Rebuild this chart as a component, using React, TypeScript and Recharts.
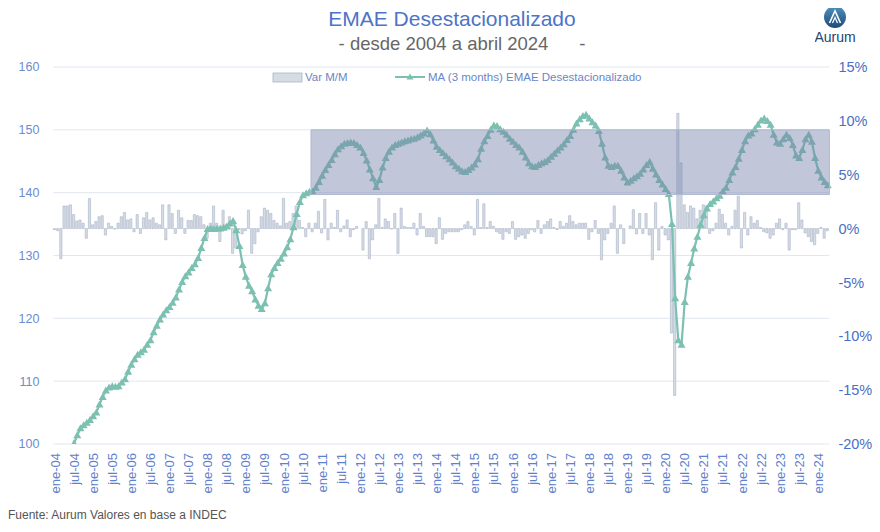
import React from "react";
import {
  Bar,
  CartesianGrid,
  ComposedChart,
  Line,
  ReferenceArea,
  XAxis,
  YAxis,
} from "recharts";

// meses en español para las etiquetas del eje X
const monthNames = ["ene", "feb", "mar", "abr", "may", "jun", "jul", "ago", "sep", "oct", "nov", "dic"];
const firstYear = 2004;
const lastMonthOfSeries = 4; // abril 2024

// MA (3 months) EMAE desestacionalizado, ene-04 .. abr-24
const maEmae: (number | null)[] = [
  null, null, null, null, null, null, 100.1, 101.4, 102.5, 103.0, 103.4, 103.8, // 2004
  104.4, 105.0, 106.3, 107.5, 108.5, 109.0, 109.2, 109.1, 109.2, 109.8, 110.3, 111.5, // 2005
  112.6, 113.5, 114.2, 114.6, 115.0, 115.8, 116.5, 117.8, 118.8, 119.8, 120.6, 121.3, // 2006
  121.8, 122.5, 123.3, 124.6, 125.8, 126.7, 127.3, 128.0, 128.6, 129.6, 131.2, 132.8, // 2007
  134.2, 134.3, 134.2, 134.3, 134.3, 134.4, 134.6, 135.1, 135.5, 134.0, 131.5, 128.5, // 2008
  126.6, 125.2, 124.3, 123.0, 122.0, 121.5, 122.4, 124.8, 127.0, 128.0, 128.8, 129.5, // 2009
  130.3, 131.3, 132.6, 134.5, 136.6, 138.5, 139.6, 139.9, 140.1, 140.2, 140.8, 141.7, // 2010
  142.7, 143.6, 144.4, 145.2, 146.1, 146.9, 147.4, 147.8, 147.9, 148.0, 147.9, 147.6, // 2011
  147.2, 146.3, 145.1, 143.7, 142.3, 140.9, 142.0, 144.0, 145.5, 146.5, 147.2, 147.6, // 2012
  147.8, 148.0, 148.2, 148.3, 148.5, 148.6, 148.8, 149.1, 149.4, 149.9, 149.3, 148.3, // 2013
  147.3, 146.8, 146.3, 145.8, 145.3, 144.8, 144.2, 143.8, 143.4, 143.3, 143.6, 144.0, // 2014
  144.5, 145.3, 147.0, 148.2, 149.0, 150.0, 150.7, 150.6, 150.1, 149.7, 149.2, 148.6, // 2015
  148.1, 147.6, 147.2, 146.5, 145.6, 144.7, 144.2, 144.1, 144.4, 144.7, 144.9, 145.2, // 2016
  145.7, 146.2, 146.7, 147.2, 147.7, 148.4, 149.0, 150.0, 151.0, 151.7, 152.2, 152.4, // 2017
  151.8, 151.2, 150.7, 149.8, 147.8, 145.6, 144.3, 144.1, 144.3, 144.3, 143.5, 142.4, // 2018
  141.6, 141.9, 142.3, 142.6, 143.0, 143.7, 144.4, 144.9, 143.8, 142.9, 142.0, 141.3, // 2019
  140.6, 139.8, 135.0, 123.2, 116.5, 115.8, 122.6, 126.6, 128.8, 131.1, 133.0, 134.9, // 2020
  136.4, 137.5, 138.2, 138.6, 139.1, 139.5, 140.2, 140.8, 142.0, 143.2, 144.1, 145.4, // 2021
  146.8, 148.2, 149.1, 149.4, 150.1, 150.8, 151.5, 151.8, 151.4, 150.8, 149.2, 148.0, // 2022
  147.8, 148.5, 149.2, 148.7, 147.6, 145.9, 145.5, 146.8, 148.5, 149.2, 148.1, 145.5, // 2023
  143.5, 142.4, 141.7, 141.2, // 2024
];

// Var M/M (%)
const varMoM: number[] = [
  -0.1, -0.2, -2.8, 2.1, 2.1, 2.2, 1.3, 0.7, 0.8, 0.5, -0.9, 2.8, // 2004
  0.35, 0.65, 1.1, 1.2, -0.6, 0.5, 0.2, -0.05, 0.5, 1.1, 1.5, 0.8, // 2005
  0.9, -0.3, 1.3, -0.45, 1.0, 1.5, 0.8, 1.0, 0.5, 0.35, 2.2, -1.05, // 2006
  2.2, 1.4, -0.45, 1.7, 1.0, -0.45, 0.75, 0.75, 1.3, 1.2, 1.1, 0.35, // 2007
  -0.9, 0.5, 2.1, 0.5, -1.2, 1.7, 0.35, 1.1, -2.3, -1.8, -0.1, -0.5, // 2008
  -0.2, 1.7, -2.3, -1.4, -0.3, 1.1, 1.9, 1.7, 1.4, 0.75, 0.5, 0.25, // 2009
  2.8, 0.5, 0.65, 1.4, 2.1, 0.75, 0.1, -0.75, 0.5, -0.3, 0.5, 1.6, // 2010
  -0.4, 2.7, -1.05, 0.5, 0.1, 1.7, -0.3, 0.25, 0.8, -0.75, -0.1, 0.2, // 2011
  0.0, -2.0, 0.65, -2.8, -1.05, 0.35, 2.8, 0.1, 0.9, 0.65, -0.05, 1.4, // 2012
  -2.3, 1.9, 0.2, 0.1, 0.1, 0.5, -0.6, 1.4, 0.2, -0.75, -0.75, -0.75, // 2013
  -1.4, 1.0, -1.0, -0.45, -0.3, -0.3, -0.3, -0.3, -0.1, 0.35, 0.65, 0.2, // 2014
  -0.6, 2.7, 0.1, 2.3, 0.1, 0.65, 0.2, -0.3, -0.45, -1.0, -0.3, -0.45, // 2015
  0.65, -1.0, -0.75, -0.6, -0.9, -0.45, -0.1, -0.3, 0.75, -0.45, 0.35, 0.65, // 2016
  0.9, 0.1, -0.1, 0.65, 0.2, 0.5, 1.2, 0.65, 0.35, 0.5, 0.5, 0.5, // 2017
  -1.0, -0.3, 0.75, -0.45, -2.9, -1.05, -0.45, 0.5, 2.1, -2.3, 0.35, -1.4, // 2018
  0.0, 0.25, 1.75, -0.5, 1.4, -0.45, 1.4, -0.6, -2.9, 2.4, -2.0, 0.2, // 2019
  -0.6, -1.05, -9.7, -15.5, 10.7, 6.1, 2.2, 1.5, 2.1, 1.9, 0.9, 1.7, // 2020
  2.2, 2.1, -0.45, -0.2, 0.5, 1.8, 1.3, 0.5, -0.6, 0.2, 1.7, 3.0, // 2021
  -1.8, 1.5, -0.6, 1.1, 0.5, 0.75, 0.1, -0.3, -0.4, -0.9, -0.6, 0.5, // 2022
  0.9, -0.1, 0.5, -2.0, -0.1, -0.1, 2.4, 0.8, -0.4, -0.75, -1.2, -1.5, // 2023
  -0.45, 0.1, -0.9, -0.2, // 2024
];

const leftTicks = [100, 110, 120, 130, 140, 150, 160];
const rightTicks = [-20, -15, -10, -5, 0, 5, 10, 15];

// banda resaltada (oct-10 a abr-24)
const bandStart = "oct-10";
const bandEnd = "abr-24";
const bandLow = 139.7;
const bandHigh = 150;

const LINE_COLOR = "#7cc0b1";
const AXIS_BLUE = "#5f80cc";

const months: string[] = [];
for (let y = firstYear; y <= 2024; y++) {
  for (let m = 0; m < 12; m++) {
    if (y === 2024 && m >= lastMonthOfSeries) break;
    months.push(`${monthNames[m]}-${String(y).slice(2)}`);
  }
}

const chartData = months.map((label, i) => ({
  label,
  ma: maEmae[i],
  mom: varMoM[i],
}));

const TriangleDot = (props: any) => {
  const { cx, cy, index } = props;
  if (cx == null || cy == null || isNaN(cy)) return <g key={`d-${index}`} />;
  const s = 4;
  return (
    <path
      key={`d-${index}`}
      d={`M${cx},${cy - s} L${cx + s},${cy + s * 0.75} L${cx - s},${cy + s * 0.75} Z`}
      fill={LINE_COLOR}
    />
  );
};

const MonthTick = (props: any) => {
  const { x, y, payload } = props;
  return (
    <text
      transform={`translate(${x},${y + 1}) rotate(-90)`}
      textAnchor="end"
      dy="0.35em"
      fontSize={13}
      fill={AXIS_BLUE}
    >
      {payload.value}
    </text>
  );
};

export default function App() {
  return (
    <div
      style={{
        position: "relative",
        width: 880,
        height: 532,
        margin: -8,
        background: "#fff",
        fontFamily: '"Liberation Sans", Arial, sans-serif',
        overflow: "hidden",
      }}
    >
      {/* título */}
      <div
        style={{
          position: "absolute",
          top: 7,
          left: 0,
          width: 904,
          textAlign: "center",
          fontSize: 21,
          color: "#4e73c7",
        }}
      >
        EMAE Desestacionalizado
      </div>
      <div
        style={{
          position: "absolute",
          top: 33,
          left: 0,
          width: 924,
          textAlign: "center",
          fontSize: 18.5,
          color: "#666",
          whiteSpace: "pre",
        }}
      >
        {"- desde 2004 a abril 2024      -"}
      </div>

      {/* logo */}
      <svg style={{ position: "absolute", left: 815, top: 4 }} width={44} height={44}>
        <defs>
          <linearGradient id="logoGrad" x1="0" y1="0" x2="0" y2="1">
            <stop offset="0%" stopColor="#4f92c0" />
            <stop offset="100%" stopColor="#1f4a78" />
          </linearGradient>
        </defs>
        <circle cx={20} cy={13} r={11} fill="url(#logoGrad)" />
        <path d="M14.5,19 L20,7 L25.5,19" stroke="#fff" strokeWidth={1.6} fill="none" />
        <path d="M17.5,19 L20,13.5 L22.5,19" stroke="#fff" strokeWidth={1.2} fill="none" />
        <text x={20} y={38} textAnchor="middle" fontSize={14} fill="#23466f">
          Aurum
        </text>
      </svg>

      {/* leyenda */}
      <svg style={{ position: "absolute", left: 0, top: 66 }} width={880} height={20}>
        <rect x={273} y={7} width={29} height={9} fill="#d6dce6" stroke="#aab4c8" strokeWidth={0.8} />
        <text x={305} y={15} fontSize={11.5} fill="#6a86c6">
          Var M/M
        </text>
        <line x1={395} y1={11} x2={425} y2={11} stroke={LINE_COLOR} strokeWidth={2} />
        <path d="M410,7.5 L413.5,13.5 L406.5,13.5 Z" fill={LINE_COLOR} />
        <text x={428} y={15} fontSize={11.5} fill="#6a86c6">
          MA (3 months) EMAE Desestacionalizado
        </text>
      </svg>

      <div style={{ position: "absolute", left: 0, top: 0 }}>
        <ComposedChart
          width={880}
          height={532}
          data={chartData}
          margin={{ top: 67, right: 5.6, bottom: 28, left: 0 }}
          barSize={2.2}
        >
          <CartesianGrid yAxisId="left" vertical={false} stroke="#e1e6f0" strokeWidth={1} />
          <XAxis
            dataKey="label"
            interval={5}
            tickLine={false}
            axisLine={false}
            height={60}
            tick={<MonthTick />}
          />
          <YAxis
            yAxisId="left"
            domain={[100, 160]}
            ticks={leftTicks}
            allowDataOverflow
            axisLine={false}
            tickLine={false}
            width={53.4}
            tickMargin={8}
            tick={{ fontSize: 12.5, fill: "#6d8bd0" }}
          />
          <YAxis
            yAxisId="right"
            orientation="right"
            domain={[-20, 15]}
            ticks={rightTicks}
            allowDataOverflow
            axisLine={false}
            tickLine={false}
            width={45}
            tickMargin={3}
            tickFormatter={(v: number) => `${v}%`}
            tick={{ fontSize: 14.5, fill: "#4a6fc6", textAnchor: "start" }}
          />
          <Bar
            yAxisId="right"
            dataKey="mom"
            fill="#d6dce6"
            stroke="#a9b3c8"
            strokeWidth={0.6}
            isAnimationActive={false}
          />
          <Line
            yAxisId="left"
            dataKey="ma"
            stroke={LINE_COLOR}
            strokeWidth={2.2}
            dot={TriangleDot}
            activeDot={false}
            isAnimationActive={false}
          />
          <ReferenceArea
            yAxisId="left"
            x1={bandStart}
            x2={bandEnd}
            y1={bandLow}
            y2={bandHigh}
            fill="#7886ad"
            fillOpacity={0.46}
            stroke="#aeb8d0"
            strokeWidth={1}
            zIndex={1000}
          />
        </ComposedChart>
      </div>

      {/* fuente */}
      <div
        style={{
          position: "absolute",
          left: 8,
          top: 508,
          fontSize: 12,
          color: "#555",
        }}
      >
        Fuente: Aurum Valores en base a INDEC
      </div>
    </div>
  );
}
